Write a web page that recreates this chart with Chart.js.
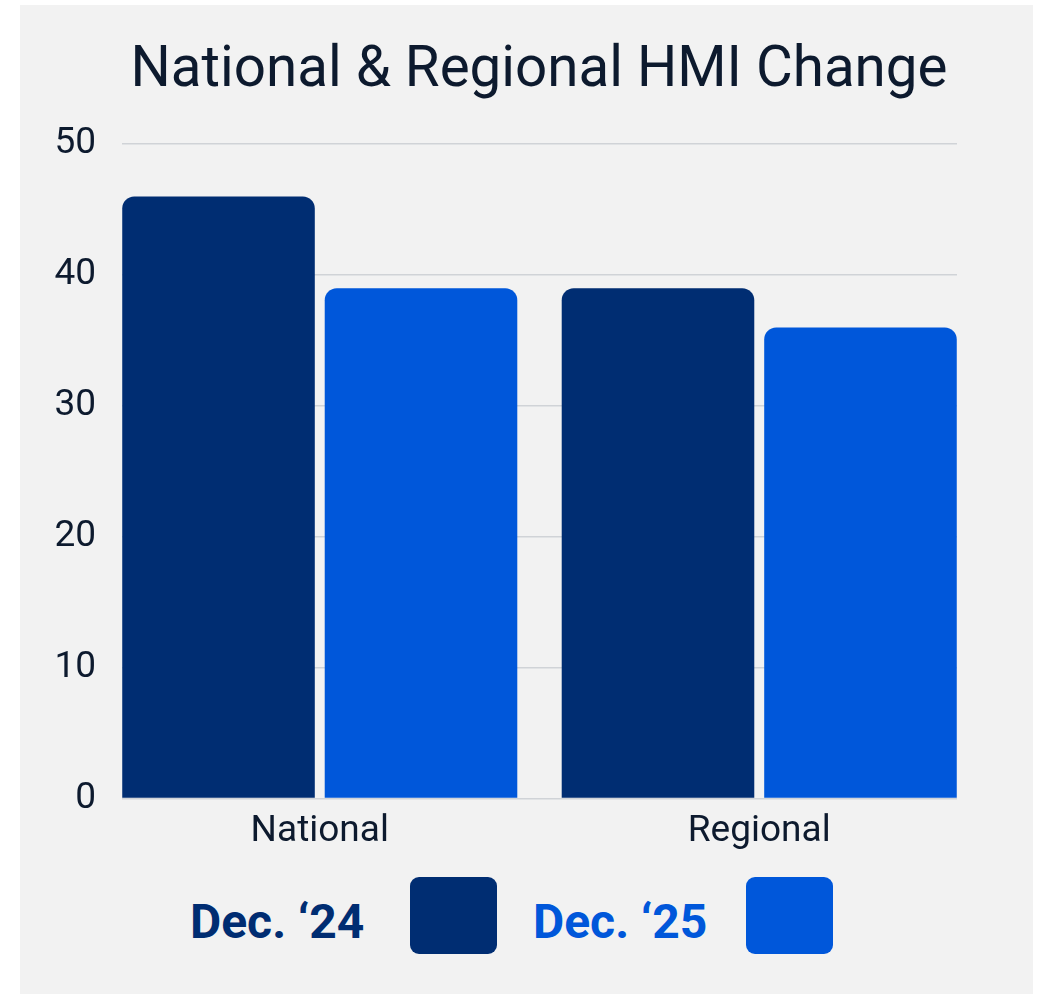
<!DOCTYPE html>
<html>
<head>
<meta charset="utf-8">
<script src="https://cdn.jsdelivr.net/npm/chart.js@4.4.1/dist/chart.umd.min.js"></script>
<style>
    body { margin: 0; background: #ffffff; width: 1041px; height: 994px; position: relative; overflow: hidden; }
    #panel { position: absolute; left: 20px; top: 5px; width: 1013px; height: 989px; background: #f2f2f2; }
    #title { position: absolute; left: 0; width: 1078px; top: 34px; text-align: center; font: 400 56.5px Roboto, sans-serif; color: #0d1a2e; white-space: nowrap; }
    #chartBox { position: absolute; left: 20px; top: 96px; width: 1013px; height: 771px; }
    .leg { position: absolute; font: 700 48px Roboto, sans-serif; white-space: nowrap; }
    .box { position: absolute; top: 877px; width: 87px; height: 77px; border-radius: 9px; }
</style>
</head>
<body>
<div id="panel"></div>
<div id="title">National &amp; Regional HMI Change</div>
<div id="chartBox"><canvas id="mainChart"></canvas></div>
<div class="leg" style="left:190px; top:893px; color:#002d72;">Dec. ‘24</div>
<div class="box" style="left:410px; background:#002d72;"></div>
<div class="leg" style="left:533px; top:893px; color:#0057da;">Dec. ‘25</div>
<div class="box" style="left:746px; background:#0057da;"></div>
<script>
const categories = ['National', 'Regional'];
const seriesNames = ['Dec. ‘24', 'Dec. ‘25'];
const dec24 = [46, 39];
const dec25 = [39, 36];
const yTicks = [0, 10, 20, 30, 40, 50];

const colors = ['#002d72', '#0057da'];

function toPoints(values) {
    return values.map((v, i) => ({ x: i, y: v }));
}

const ctx = document.getElementById('mainChart').getContext('2d');
const mainChart = new Chart(ctx, {
    type: 'bar',
    data: {
        datasets: [dec24, dec25].map((values, i) => ({
            label: seriesNames[i],
            data: toPoints(values),
            backgroundColor: colors[i],
            borderRadius: { topLeft: 12, topRight: 12, bottomLeft: 0, bottomRight: 0 },
            borderSkipped: 'start',
            categoryPercentage: 0.9215,
            barPercentage: 0.951
        }))
    },
    options: {
        responsive: true,
        maintainAspectRatio: false,
        animation: false,
        layout: { padding: { top: 39, right: 76, bottom: 10, left: 0 } },
        plugins: {
            legend: { display: false },
            tooltip: { enabled: false }
        },
        scales: {
            x: {
                type: 'linear',
                offset: false,
                min: -0.45,
                max: 1.45,
                grid: { display: false },
                border: { display: false },
                afterBuildTicks: (scale) => {
                    scale.ticks = categories.map((c, i) => ({ value: i }));
                },
                ticks: {
                    padding: 3,
                    color: '#0d1a2e',
                    font: { family: 'Roboto', size: 37 },
                    callback: (value, index) => categories[index]
                }
            },
            y: {
                min: 0,
                max: 50,
                afterBuildTicks: (scale) => {
                    scale.ticks = yTicks.map(v => ({ value: v }));
                },
                afterFit: (scale) => {
                    scale.width = 102;
                },
                grid: { color: '#d0d3d7', lineWidth: 1.5, drawTicks: false },
                border: { display: false },
                ticks: {
                    padding: 26,
                    color: '#0d1a2e',
                    font: { family: 'Roboto', size: 37 }
                }
            }
        }
    }
});
</script>
</body>
</html>
